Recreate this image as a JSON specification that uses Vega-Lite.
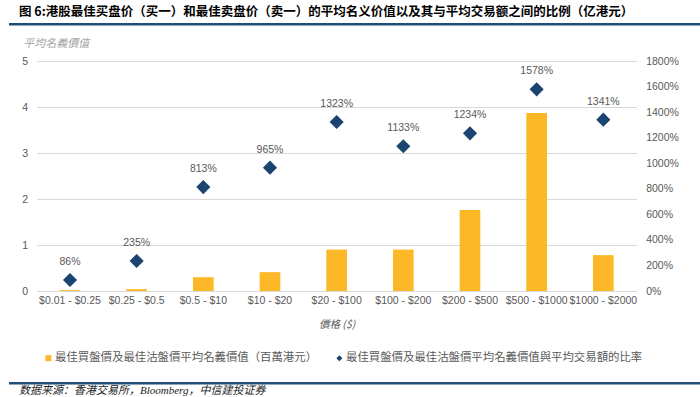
{
  "$schema": "https://vega.github.io/schema/vega-lite/v6.json",
  "background": "white",
  "padding": {"left": 3, "right": 3, "top": 4, "bottom": 0},
  "autosize": {"type": "pad"},
  "config": {
    "view": {"stroke": null},
    "font": "Liberation Sans",
    "axis": {
      "labelFont": "Liberation Sans",
      "labelColor": "#595959",
      "labelFontSize": 10.5,
      "ticks": false,
      "domain": false,
      "gridColor": "#D9D9D9",
      "gridWidth": 1
    },
    "legend": {
      "labelFont": "Noto Sans CJK TC",
      "labelFontSize": 11.4,
      "labelColor": "#595959",
      "labelLimit": 500,
      "symbolSize": 36,
      "symbolStrokeWidth": 0,
      "labelOffset": 1,
      "columnPadding": 16
    }
  },
  "spacing": 6,
  "center": true,
  "resolve": {"legend": {"color": "independent", "shape": "independent"}},
  "vconcat": [
    {
      "width": 694,
      "height": 0.5,
      "view": {"stroke": "#1F4E79", "strokeWidth": 2},
      "title": {
        "text": "图 6:港股最佳买盘价（买一）和最佳卖盘价（卖一）的平均名义价值以及其与平均交易额之间的比例（亿港元）",
        "anchor": "start",
        "font": "Noto Sans CJK SC",
        "fontSize": 12.5,
        "fontWeight": "bold",
        "color": "#000000",
        "offset": 0,
        "dx": 9
      },
      "data": {"values": [{}]},
      "mark": {"type": "text", "text": ""},
      "encoding": {}
    },
    {
      "width": 600,
      "height": 230,
      "data": {
        "values": [
          {"range": "$0.01 - $0.25", "value": 0.02, "ratio": 0.86},
          {"range": "$0.25 - $0.5", "value": 0.04, "ratio": 2.35},
          {"range": "$0.5 - $10", "value": 0.30, "ratio": 8.13},
          {"range": "$10 - $20", "value": 0.41, "ratio": 9.65},
          {"range": "$20 - $100", "value": 0.90, "ratio": 13.23},
          {"range": "$100 - $200", "value": 0.90, "ratio": 11.33},
          {"range": "$200 - $500", "value": 1.76, "ratio": 12.34},
          {"range": "$500 - $1000", "value": 3.87, "ratio": 15.78},
          {"range": "$1000 - $2000", "value": 0.78, "ratio": 13.41}
        ]
      },
      "transform": [{"fold": ["value", "ratio"], "as": ["series", "amount"]}],
      "encoding": {
        "x": {
          "field": "range",
          "type": "nominal",
          "sort": null,
          "scale": {"paddingInner": 0.69, "paddingOuter": 0.345},
          "axis": {
            "labelAngle": 0,
            "labelPadding": 4,
            "domain": true,
            "domainColor": "#D9D9D9",
            "grid": false,
            "title": "價格 ($)",
            "titleFont": "Noto Sans CJK TC",
            "titleFontStyle": "italic",
            "titleFontWeight": "normal",
            "titleFontSize": 10.5,
            "titleColor": "#595959",
            "titlePadding": 14
          }
        }
      },
      "layer": [
        {
          "transform": [{"filter": "datum.series == 'value'"}],
          "mark": {"type": "bar"},
          "encoding": {
            "y": {
              "field": "amount",
              "type": "quantitative",
              "scale": {"domain": [0, 5]},
              "axis": {
                "values": [0, 1, 2, 3, 4, 5],
                "grid": true,
                "labelPadding": 9,
                "minExtent": 33,
                "title": "平均名義價值",
                "titleFont": "Noto Sans CJK TC",
                "titleFontStyle": "italic",
                "titleFontWeight": "normal",
                "titleFontSize": 11,
                "titleColor": "#A6A6A6",
                "titleAngle": 0,
                "titleAlign": "left",
                "titleBaseline": "middle",
                "titleX": -14,
                "titleY": -18
              }
            },
            "color": {
              "field": "series",
              "type": "nominal",
              "scale": {"domain": ["value", "ratio"], "range": ["#FDB827", "#1B4470"]},
              "legend": {
                "orient": "bottom",
                "direction": "horizontal",
                "title": null,
                "offset": 16,
                "padding": 6,
                "labelExpr": "datum.label == 'value' ? '最佳買盤價及最佳沽盤價平均名義價值（百萬港元）' : '最佳買盤價及最佳沽盤價平均名義價值與平均交易額的比率'"
              }
            }
          }
        },
        {
          "transform": [{"filter": "datum.series == 'ratio'"}],
          "encoding": {
            "y": {
              "field": "amount",
              "type": "quantitative",
              "scale": {"domain": [0, 18]},
              "axis": {
                "orient": "right",
                "values": [0, 2, 4, 6, 8, 10, 12, 14, 16, 18],
                "format": ".0%",
                "grid": false,
                "labelPadding": 9,
                "title": null
              }
            }
          },
          "layer": [
            {
              "mark": {"type": "point", "filled": true, "size": 200, "opacity": 1},
              "encoding": {
                "color": {"field": "series", "type": "nominal"},
                "shape": {
                  "field": "series",
                  "type": "nominal",
                  "scale": {"domain": ["value", "ratio"], "range": ["square", "diamond"]},
                  "legend": {
                    "orient": "bottom",
                    "direction": "horizontal",
                    "title": null,
                    "offset": 16,
                    "padding": 6,
                    "labelExpr": "datum.label == 'value' ? '最佳買盤價及最佳沽盤價平均名義價值（百萬港元）' : '最佳買盤價及最佳沽盤價平均名義價值與平均交易額的比率'"
                  }
                }
              }
            },
            {
              "mark": {"type": "text", "dy": -18, "fontSize": 10.5, "color": "#595959", "font": "Liberation Sans"},
              "encoding": {
                "text": {"field": "amount", "type": "quantitative", "format": ".0%"}
              }
            }
          ]
        }
      ],
      "resolve": {"scale": {"y": "independent"}}
    },
    {
      "width": 694,
      "height": 0.5,
      "view": {"stroke": "#1F4E79", "strokeWidth": 2},
      "title": {
        "text": "数据来源：香港交易所，Bloomberg，中信建投证券",
        "orient": "bottom",
        "anchor": "start",
        "baseline": "middle",
        "font": "Liberation Serif, Noto Sans CJK SC",
        "fontSize": 11,
        "fontStyle": "italic",
        "fontWeight": "normal",
        "color": "#222222",
        "offset": 3,
        "dx": 9
      },
      "data": {"values": [{}]},
      "mark": {"type": "text", "text": ""},
      "encoding": {}
    }
  ]
}
